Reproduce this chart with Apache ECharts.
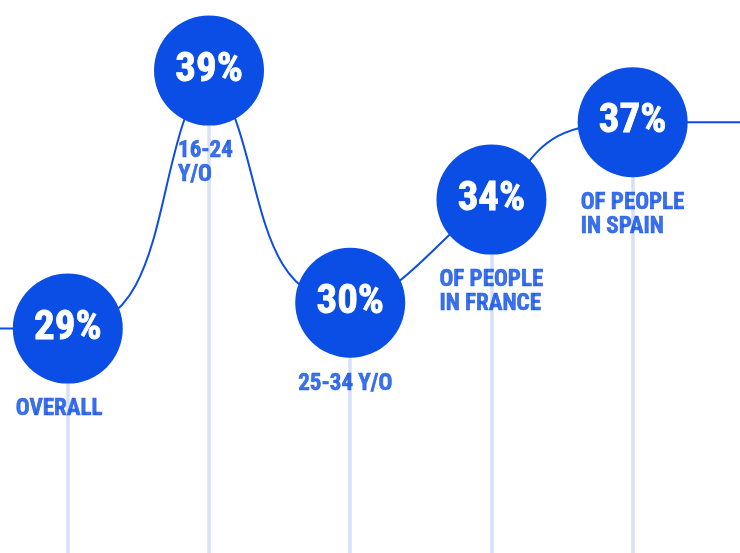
<!DOCTYPE html>
<html><head><meta charset="utf-8">
<script src="https://cdn.jsdelivr.net/npm/echarts@6/dist/echarts.min.js"></script>
<style>html,body{margin:0;padding:0;background:#fff}#c{width:740px;height:553px}</style>
</head><body><div id="c"></div>
<script>
const categories = ['OVERALL', '16-24\nY/O', '25-34 Y/O', 'OF PEOPLE\nIN FRANCE', 'OF PEOPLE\nIN SPAIN'];
const values = [29, 39, 30, 34, 37];
const valueLabels = ['29%', '39%', '30%', '34%', '37%'];

const BLUE = '#0b4ee6';
const STEM = '#d6e0f8';
const FONT = "'Roboto Condensed', Roboto, 'Noto Sans', sans-serif";
const X_MIN = -0.48, X_MAX = 4.76, Y_MIN = 20.3, Y_MAX = 41;

const pts = values.map((v, i) => [i, v]);
const last = values.length - 1;
// line continues flat beyond the first and last point
const linePts = [[-1, values[0]]].concat(pts, [[last + 1, values[last]]]);

// smooth path in pixel space: monotone tangents, pointed (hidden) peaks
function curvePath(P) {
  const n = P.length;
  const t = new Array(n).fill(0);
  const sgn = v => v > 0 ? 1 : v < 0 ? -1 : 0;
  for (let i = 1; i < n - 1; i++) {
    const h0 = P[i][0] - P[i - 1][0], h1 = P[i + 1][0] - P[i][0];
    const s0 = (P[i][1] - P[i - 1][1]) / h0, s1 = (P[i + 1][1] - P[i][1]) / h1;
    const p = (s0 * h1 + s1 * h0) / (h0 + h1);
    t[i] = (sgn(s0) + sgn(s1)) * Math.min(Math.abs(s0), Math.abs(s1), 0.5 * Math.abs(p)) || 0;
  }
  const isPeak = i => i > 0 && i < n - 1 && P[i][1] < P[i - 1][1] && P[i][1] < P[i + 1][1];
  const isEnd = i => i === 1 || i === n - 2;
  let d = 'M' + P[0][0] + ' ' + P[0][1];
  for (let i = 0; i < n - 1; i++) {
    const a = P[i], b = P[i + 1];
    const dx = b[0] - a[0], ady = Math.abs(b[1] - a[1]);
    let c1, c2;
    if (isPeak(i)) c1 = [a[0] + 0.42 * dx, a[1] + 0.3 * ady];
    else { const L = (isPeak(i + 1) || isEnd(i)) ? 0.76 * dx : dx / 3; c1 = [a[0] + L, a[1] + L * t[i]]; }
    if (isPeak(i + 1)) c2 = [b[0] - 0.42 * dx, b[1] + 0.3 * ady];
    else { const L = (isPeak(i) || isEnd(i + 1)) ? 0.76 * dx : dx / 3; c2 = [b[0] - L, b[1] - L * t[i + 1]]; }
    d += ' C' + c1[0] + ' ' + c1[1] + ' ' + c2[0] + ' ' + c2[1] + ' ' + b[0] + ' ' + b[1];
  }
  return d;
}

const chart = echarts.init(document.getElementById('c'), null, {renderer: 'canvas'});
chart.setOption({
  animation: false,
  backgroundColor: '#ffffff',
  grid: {left: 0, right: 0, top: 19, bottom: 0},
  xAxis: {type: 'value', min: X_MIN, max: X_MAX, show: false},
  yAxis: {type: 'value', min: Y_MIN, max: Y_MAX, show: false},
  series: [
    {
      type: 'scatter', symbolSize: 0, data: [], z: 1, silent: true,
      markLine: {
        z: 1, silent: true, symbol: 'none', animation: false,
        label: {show: false},
        lineStyle: {color: STEM, width: 3.5, type: 'solid'},
        data: pts.map(p => [{coord: p}, {coord: [p[0], Y_MIN]}])
      }
    },
    {
      type: 'custom', z: 2, silent: true, clip: false,
      data: [0],
      renderItem: (params, api) => {
        const P = linePts.map(p => api.coord(p));
        return {
          type: 'path',
          shape: {pathData: curvePath(P)},
          style: {fill: 'none', stroke: BLUE, lineWidth: 2}
        };
      }
    },
    {
      type: 'scatter', data: pts, z: 3,
      symbol: 'circle', symbolSize: 110,
      itemStyle: {color: BLUE, opacity: 1},
      label: {
        show: true, position: 'inside',
        formatter: p => valueLabels[p.dataIndex],
        color: '#ffffff', fontSize: 41, fontWeight: 'bold', fontFamily: FONT,
        textBorderColor: '#ffffff', textBorderWidth: 0.8
      }
    },
    {
      type: 'scatter', symbolSize: 0, z: 4, silent: true,
      data: pts.map((p, i) => ({
        value: p,
        label: {position: [i === 1 ? -31 : -52, 69]}
      })),
      label: {
        show: true,
        formatter: p => categories[p.dataIndex],
        align: 'left', verticalAlign: 'top',
        color: BLUE, fontSize: 23, lineHeight: 24, fontWeight: 'bold', fontFamily: FONT,
        textBorderColor: BLUE, textBorderWidth: 0.6
      }
    }
  ]
});
</script>
</body></html>
